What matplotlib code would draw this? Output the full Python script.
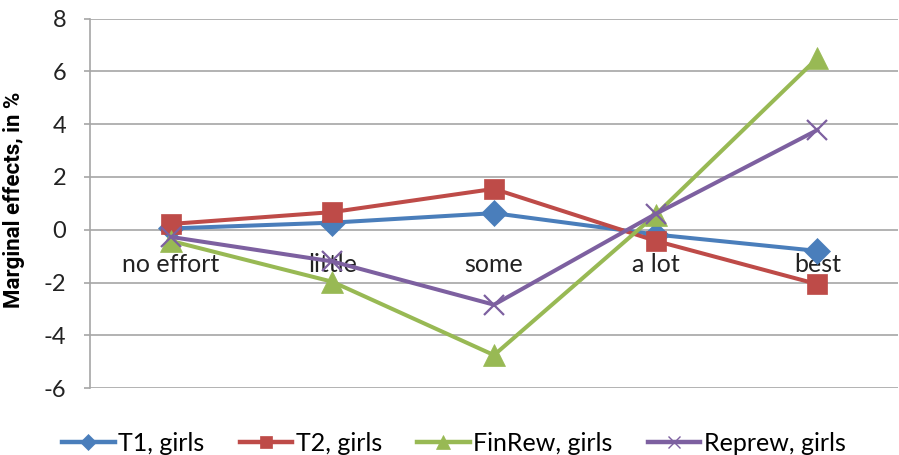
import matplotlib
matplotlib.use("Agg")
import matplotlib.pyplot as plt
from matplotlib.lines import Line2D

plt.rcParams['font.family'] = ['Lato', 'DejaVu Sans']
plt.rcParams['axes.unicode_minus'] = False

categories = ["no effort", "little", "some", "a lot", "best"]
t1_girls = [0.05, 0.27, 0.63, -0.18, -0.8]
t2_girls = [0.22, 0.67, 1.55, -0.42, -2.06]
finrew_girls = [-0.42, -1.97, -4.75, 0.57, 6.5]
reprew_girls = [-0.27, -1.2, -2.84, 0.6, 3.78]

# name, values, colour, marker, marker size
series = [
    ("T1, girls", t1_girls, "#4A7EBB", "D", 13),
    ("T2, girls", t2_girls, "#BE4B48", "s", 15),
    ("FinRew, girls", finrew_girls, "#98B954", "^", 16),
    ("Reprew, girls", reprew_girls, "#7D60A0", "x", 14),
]

fig = plt.figure(figsize=(8.99, 4.55), dpi=100)
ax = fig.add_axes([0.100, 0.147, 0.899, 0.812])

x = list(range(len(categories)))
handles = []
for name, vals, col, mk, ms in series:
    ax.plot(x, vals, color=col, linewidth=2.9, marker=mk, markersize=ms,
            markeredgewidth=1.6 if mk == "x" else 0.5, markeredgecolor=col,
            clip_on=False)
    handles.append(Line2D([], [], color=col, linewidth=3.2, marker=mk,
                          markersize=ms * 0.6, markeredgecolor=col,
                          markeredgewidth=1.0 if mk == "x" else 0.5,
                          label=name))

ax.set_xlim(-0.5, 4.5)
ax.set_ylim(-6, 8)
ax.set_yticks(range(-6, 9, 2))
ax.yaxis.grid(True, color="#a6a6a6", linewidth=1.2)
ax.set_axisbelow(True)

ax.spines['bottom'].set_position(('data', 0))
ax.spines['bottom'].set_visible(False)
ax.spines['top'].set_visible(False)
ax.spines['right'].set_visible(False)
ax.spines['left'].set_color("#a6a6a6")
ax.spines['left'].set_linewidth(1.2)
ax.set_xticks(x)
ax.set_xticklabels(categories)
ax.tick_params(axis='x', length=0, pad=17, labelsize=18, labelcolor="#222222")
ax.tick_params(axis='y', length=4, color="#a6a6a6", width=1.2, labelsize=17,
               pad=13, labelcolor="#222222")

ax.set_ylabel("Marginal effects, in %", fontsize=16, fontweight="bold",
              family=["Roboto", "DejaVu Sans"])
ax.yaxis.set_label_coords(-0.08, 0.51)

fig.legend(handles=handles, loc="center", ncol=4, frameon=False, fontsize=18,
           bbox_to_anchor=(0.505, 0.026), handlelength=2.1, columnspacing=1.4,
           handletextpad=0.15, borderpad=0)

fig.savefig("out.png", dpi=100)
